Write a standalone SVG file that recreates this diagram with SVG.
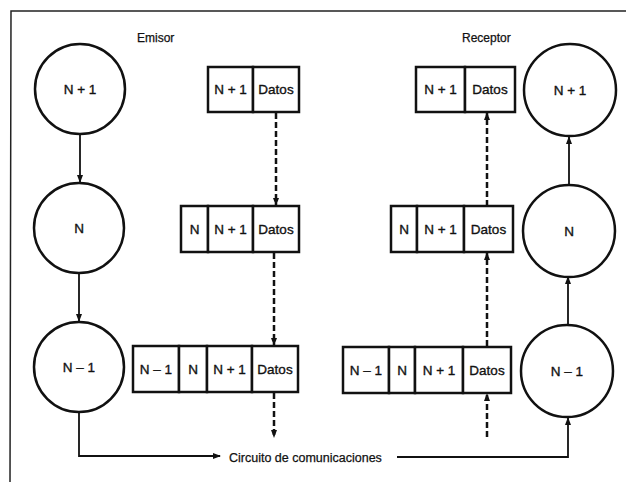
<svg xmlns="http://www.w3.org/2000/svg" width="627" height="482" viewBox="0 0 627 482">
<defs>
<style>
.frame{stroke:#222;stroke-width:1.5;fill:none}
.node{fill:#fff;stroke:#111;stroke-width:2.5}
.cell{fill:#fff;stroke:#111;stroke-width:2.5}
.lbl{font-family:"Liberation Sans",Arial,sans-serif;font-size:13.5px;fill:#111;stroke:#111;stroke-width:0.35;text-anchor:middle}
.title{font-family:"Liberation Sans",Arial,sans-serif;font-size:12px;fill:#111;stroke:#111;stroke-width:0.25}
.solid{stroke:#111;stroke-width:1.8;fill:none}
.dash{stroke:#111;stroke-width:2.5;fill:none;stroke-dasharray:6 3}
</style>
<marker id="ah" markerWidth="8" markerHeight="8" refX="7" refY="4" orient="auto" markerUnits="userSpaceOnUse">
<path d="M0,1 L8,4 L0,7 Z" fill="#111"/>
</marker>
</defs>
<rect width="627" height="482" fill="#fff"/>
<path class="frame" d="M10,482 L11,11 L626,11"/>
<text class="title" x="137" y="42">Emisor</text>
<text class="title" x="462" y="42">Receptor</text>

<g id="connectors">
<line class="solid" x1="80" y1="135" x2="80" y2="182" marker-end="url(#ah)"/>
<line class="solid" x1="79" y1="274" x2="79" y2="321" marker-end="url(#ah)"/>
<polyline class="solid" points="79,413 79,456 220,456" marker-end="url(#ah)"/>
<polyline class="solid" points="397,457 568,457 568,418" marker-end="url(#ah)"/>
<line class="solid" x1="568" y1="325" x2="568" y2="277" marker-end="url(#ah)"/>
<line class="solid" x1="569" y1="184" x2="569" y2="137" marker-end="url(#ah)"/>
<line class="dash" x1="276" y1="113" x2="276" y2="205" marker-end="url(#ah)"/>
<line class="dash" x1="274" y1="253" x2="274" y2="345" marker-end="url(#ah)"/>
<line class="dash" x1="274" y1="393" x2="274" y2="437" marker-end="url(#ah)"/>
<line class="dash" x1="487" y1="437" x2="487" y2="394" marker-end="url(#ah)"/>
<line class="dash" x1="487" y1="346" x2="487" y2="253" marker-end="url(#ah)"/>
<line class="dash" x1="487" y1="206" x2="487" y2="113" marker-end="url(#ah)"/>
</g>
<text class="title" x="229" y="462" style="font-size:12.5px">Circuito de comunicaciones</text>

<g id="e-n1"><circle class="node" cx="80" cy="89" r="45"/><text class="lbl" x="80" y="94">N + 1</text></g>
<g id="e-n"><circle class="node" cx="79" cy="228" r="45"/><text class="lbl" x="79" y="233">N</text></g>
<g id="e-nm1"><circle class="node" cx="79" cy="367" r="45"/><text class="lbl" x="79" y="372">N – 1</text></g>

<g id="r-n1"><circle class="node" cx="570" cy="90" r="46"/><text class="lbl" x="570" y="95">N + 1</text></g>
<g id="r-n"><circle class="node" cx="569" cy="231" r="46"/><text class="lbl" x="569" y="236">N</text></g>
<g id="r-nm1"><circle class="node" cx="567" cy="371" r="46"/><text class="lbl" x="567" y="376">N – 1</text></g>

<g id="e-box1">
<rect class="cell" x="208" y="67" width="45" height="45"/><rect class="cell" x="253" y="67" width="46" height="45"/>
<text class="lbl" x="230.5" y="94">N + 1</text><text class="lbl" x="276" y="94">Datos</text>
</g>
<g id="e-box2">
<rect class="cell" x="181" y="206" width="27" height="46"/><rect class="cell" x="208" y="206" width="45" height="46"/><rect class="cell" x="253" y="206" width="46" height="46"/>
<text class="lbl" x="194.5" y="234">N</text><text class="lbl" x="230.5" y="234">N + 1</text><text class="lbl" x="276" y="234">Datos</text>
</g>
<g id="e-box3">
<rect class="cell" x="133" y="346" width="46" height="46"/><rect class="cell" x="179" y="346" width="28" height="46"/><rect class="cell" x="207" y="346" width="45" height="46"/><rect class="cell" x="252" y="346" width="46" height="46"/>
<text class="lbl" x="156" y="374">N – 1</text><text class="lbl" x="193" y="374">N</text><text class="lbl" x="229.5" y="374">N + 1</text><text class="lbl" x="275" y="374">Datos</text>
</g>

<g id="r-box1">
<rect class="cell" x="416" y="67" width="49" height="45"/><rect class="cell" x="465" y="67" width="50" height="45"/>
<text class="lbl" x="440.5" y="94">N + 1</text><text class="lbl" x="490" y="94">Datos</text>
</g>
<g id="r-box2">
<rect class="cell" x="391" y="206" width="26" height="46"/><rect class="cell" x="417" y="206" width="47" height="46"/><rect class="cell" x="464" y="206" width="49" height="46"/>
<text class="lbl" x="404" y="234">N</text><text class="lbl" x="440.5" y="234">N + 1</text><text class="lbl" x="488.5" y="234">Datos</text>
</g>
<g id="r-box3">
<rect class="cell" x="343" y="347" width="46" height="46"/><rect class="cell" x="389" y="347" width="26" height="46"/><rect class="cell" x="415" y="347" width="48" height="46"/><rect class="cell" x="463" y="347" width="48" height="46"/>
<text class="lbl" x="366" y="375">N – 1</text><text class="lbl" x="402" y="375">N</text><text class="lbl" x="439" y="375">N + 1</text><text class="lbl" x="487" y="375">Datos</text>
</g>
</svg>
